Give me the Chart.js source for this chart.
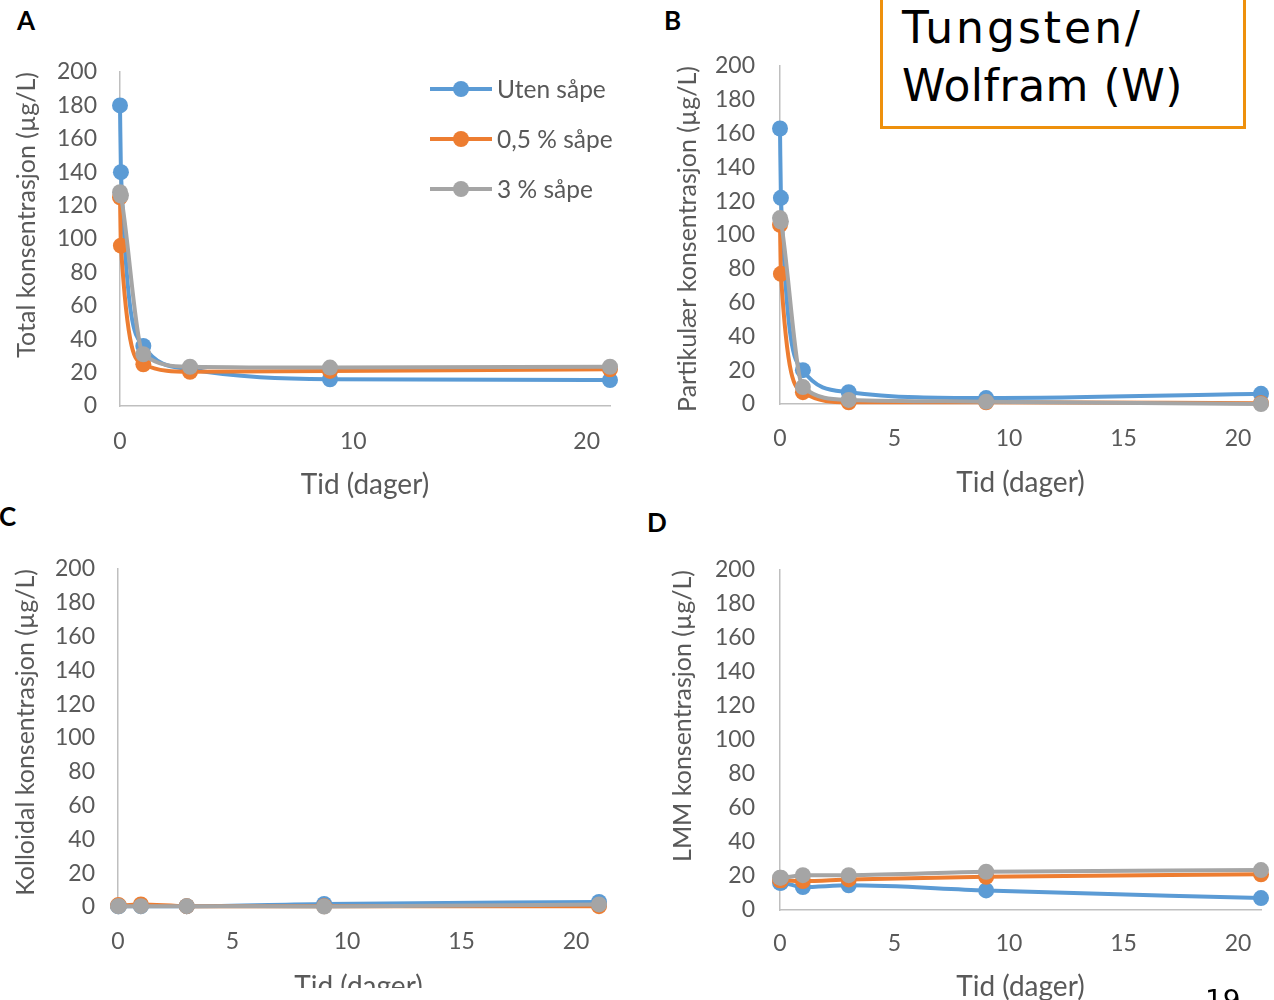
<!DOCTYPE html>
<html>
<head>
<meta charset="utf-8">
<title>Tungsten / Wolfram (W)</title>
<script src="https://cdn.jsdelivr.net/npm/chart.js"></script>
<style>
  body { margin: 0; background: #fff; width: 1274px; height: 1000px; position: relative; overflow: hidden; font-family: Lato, sans-serif; }
  canvas { position: absolute; }
  .panel-letter { position: absolute; font: bold 26px Lato, sans-serif; color: #000; line-height: 26px; }
  #element-box { position: absolute; left: 880px; top: -10px; width: 360px; height: 133px; border: 3px solid #ee900c; background: #fff; z-index: 5; }
  #element-box span { position: absolute; left: 19px; font: 44px "DejaVu Sans", sans-serif; line-height: 44px; color: #000; white-space: nowrap; }
  #legend { position: absolute; left: 0; top: 0; z-index: 4; }
  .leg-row { position: absolute; height: 24px; white-space: nowrap; }
  .leg-line { position: absolute; left: 0; top: 10px; width: 62px; height: 4px; }
  .leg-dot { position: absolute; left: 23px; top: 4px; width: 16px; height: 16px; border-radius: 50%; }
  .leg-text { position: absolute; left: 67px; top: -3px; font: 24.5px Lato, sans-serif; color: #595959; line-height: 30px; }
  #cut { position: absolute; left: 0; top: 988px; width: 650px; height: 12px; background: #fff; z-index: 3; }
  #page-no { position: absolute; left: 1205px; top: 987px; font: 28px "DejaVu Sans", sans-serif; line-height: 28px; color: #000; z-index: 4; }
</style>
</head>
<body>
  <div class="panel-letter" style="left:17px;top:7px">A</div>
  <div class="panel-letter" style="left:664px;top:7px">B</div>
  <div class="panel-letter" style="left:-1px;top:503px">C</div>
  <div class="panel-letter" style="left:647px;top:509px">D</div>

  <div id="element-box"><span style="top:13px;letter-spacing:3px">Tungsten/</span><span style="top:71px;letter-spacing:0.5px">Wolfram (W)</span></div>

  <canvas id="chartA" width="640" height="462" style="left:0;top:40px"></canvas>
  <canvas id="chartB" width="614" height="462" style="left:660px;top:40px"></canvas>
  <canvas id="chartC" width="640" height="474" style="left:0;top:530px"></canvas>
  <canvas id="chartD" width="614" height="474" style="left:660px;top:530px"></canvas>

  <div id="legend"></div>
  <div id="cut"></div>
  <div id="page-no">19</div>

  <script>
    // sampling times in days (two samples taken on day 0)
    var tid = [0, 0.04, 1, 3, 9, 21];

    var serieNavn = ['Uten såpe', '0,5 % såpe', '3 % såpe'];
    var farger = ['#5b9bd5', '#ed7d31', '#a5a5a5'];

    // A: total
    var totalUten = [180, 140, 36, 22, 16, 15.5];
    var totalHalv = [125, 96, 25, 20.5, 21, 22];
    var totalTre = [128, 126, 31, 23.5, 23, 23.5];

    // B: partikulær
    var partUten = [163, 122, 20, 7, 3.5, 6];
    var partHalv = [106, 77, 7, 1, 1, 0.5];
    var partTre = [110, 108, 10, 2.4, 1.4, 0];

    // C: kolloidal
    var kollUten = [0.5, 0.5, 0.5, 0.5, 1.8, 3];
    var kollHalv = [1, 1, 1.5, 0.5, 0.5, 0.5];
    var kollTre = [0.5, 0.5, 0.5, 0.5, 0.3, 1.5];

    // D: LMM
    var lmmUten = [16, 16, 13.5, 14.5, 11.5, 7];
    var lmmHalv = [17.5, 17.5, 17, 18, 19.5, 21];
    var lmmTre = [19, 19, 20.5, 20.5, 22.5, 23.5];

    var yTicks = { min: 0, max: 200, step: 20 };
    var tekstFarge = '#595959';
    var aksFarge = '#bfbfbf';

    function punkter(verdier) {
      return tid.map(function (t, i) { return { x: t, y: verdier[i] }; });
    }

    function lagSerie(i, verdier) {
      return {
        label: serieNavn[i],
        data: punkter(verdier),
        borderColor: farger[i],
        backgroundColor: farger[i],
        borderWidth: 4,
        pointRadius: 8,
        pointBorderWidth: 0,
        cubicInterpolationMode: 'monotone',
        clip: false,
        order: 2 - i  // grey on top, blue at the bottom
      };
    }

    function lagPanel(id, serier, p) {
      var tickFont = { family: 'Lato', size: 23 };
      return new Chart(document.getElementById(id), {
        type: 'line',
        data: { datasets: serier.map(function (v, i) { return lagSerie(i, v); }) },
        options: {
          responsive: false,
          animation: false,
          layout: { padding: { top: p.padTop, right: p.padRight, left: 0, bottom: 0 } },
          plugins: { legend: { display: false }, tooltip: { enabled: false } },
          scales: {
            x: {
              type: 'linear', min: 0, max: 21,
              grid: { display: false, drawTicks: false },
              border: { color: aksFarge, width: 1.5 },
              ticks: { stepSize: p.xStep, includeBounds: false, padding: p.xTickPad, color: tekstFarge, font: tickFont, maxRotation: 0 },
              title: { display: true, text: 'Tid (dager)', color: tekstFarge, font: { family: 'Lato', size: 28 }, padding: { top: 0, bottom: p.xTitlePad } },
              afterFit: function (s) { s.height = p.xHeight; s.paddingLeft = 0; s.paddingRight = 0; }
            },
            y: {
              min: yTicks.min, max: yTicks.max,
              grid: { display: false, drawTicks: false },
              border: { color: aksFarge, width: 1.5 },
              ticks: { stepSize: yTicks.step, padding: p.yTickPad, color: tekstFarge, font: tickFont },
              title: { display: true, text: p.yTitle, align: 'end', color: tekstFarge, font: { family: 'Lato', size: 25 }, padding: { top: p.yTitlePad, bottom: 0 } },
              afterFit: function (s) { s.width = p.yWidth; s.paddingTop = 0; s.paddingBottom = 0; }
            }
          }
        }
      });
    }

    lagPanel('chartA', [totalUten, totalHalv, totalTre], {
      yTitle: 'Total konsentrasjon (µg/L)', xStep: 10,
      padTop: 32, padRight: 30, yWidth: 120, xHeight: 96,
      xTickPad: 22, xTitlePad: 0, yTickPad: 23, yTitlePad: 12
    });
    lagPanel('chartB', [partUten, partHalv, partTre], {
      yTitle: 'Partikulær konsentrasjon (µg/L)', xStep: 5,
      padTop: 26, padRight: 13, yWidth: 120, xHeight: 98,
      xTickPad: 21, xTitlePad: 2, yTickPad: 25, yTitlePad: 13
    });
    lagPanel('chartC', [kollUten, kollHalv, kollTre], {
      yTitle: 'Kolloidal konsentrasjon (µg/L)', xStep: 5,
      padTop: 39, padRight: 41, yWidth: 118, xHeight: 97,
      xTickPad: 21, xTitlePad: 0, yTickPad: 23, yTitlePad: 11
    });
    lagPanel('chartD', [lmmUten, lmmHalv, lmmTre], {
      yTitle: 'LMM konsentrasjon (µg/L)', xStep: 5,
      padTop: 40, padRight: 13, yWidth: 120, xHeight: 94,
      xTickPad: 20, xTitlePad: 0, yTickPad: 25, yTitlePad: 8
    });

    // legend inside panel A
    var legend = document.getElementById('legend');
    serieNavn.forEach(function (navn, i) {
      var row = document.createElement('div');
      row.className = 'leg-row';
      row.style.left = '430px';
      row.style.top = (77 + i * 50) + 'px';
      row.innerHTML = '<div class="leg-line" style="background:' + farger[i] + '"></div>' +
        '<div class="leg-dot" style="background:' + farger[i] + '"></div>' +
        '<div class="leg-text">' + navn + '</div>';
      legend.appendChild(row);
    });
  </script>
</body>
</html>
